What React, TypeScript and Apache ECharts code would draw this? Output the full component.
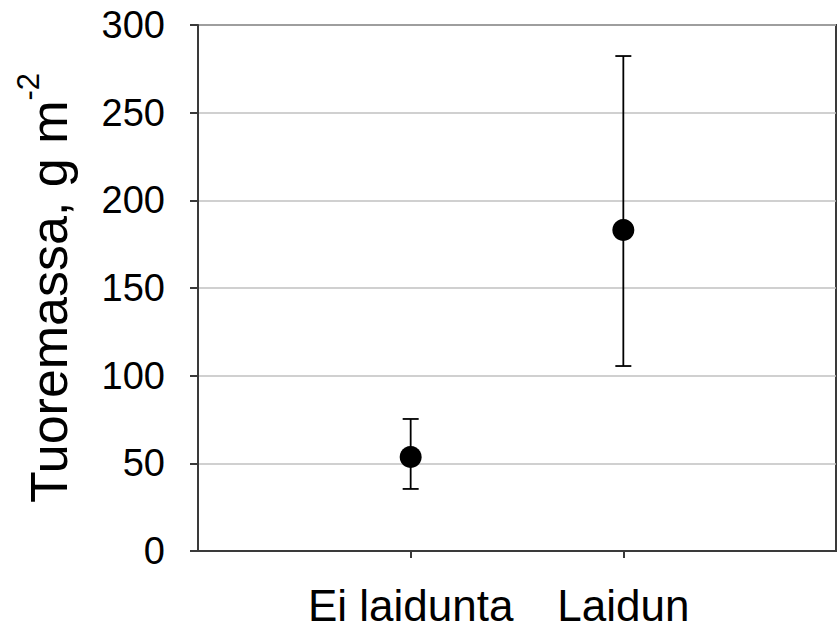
import React, { useEffect, useRef } from "react";
import * as echarts from "echarts";

const categories = ["Ei laidunta", "Laidun"];
const means = [53.6, 183.1];
const upper = [75.3, 282.3];
const lower = [35.4, 105.5];
const yTicks = [0, 50, 100, 150, 200, 250, 300];

const FONT = "'Liberation Sans', Arial, sans-serif";

export default function App() {
  const ref = useRef<HTMLDivElement>(null);
  useEffect(() => {
    if (!ref.current) return;
    const chart = echarts.init(ref.current, undefined, { renderer: "svg" });
    const pos = categories.map((_, i) => i + 1);
    const option: any = {
      animation: false,
      backgroundColor: "#ffffff",
      grid: {
        left: 198,
        right: 2,
        top: 25,
        bottom: 77,
        show: true,
        borderColor: "#3a3a3a",
        borderWidth: 2,
      },
      xAxis: {
        type: "value",
        min: 0,
        max: 3,
        interval: 1,
        splitLine: { show: false },
        axisLine: { show: true, onZero: false, lineStyle: { color: "#3a3a3a", width: 2 } },
        axisTick: { show: true, customValues: pos, length: 7, lineStyle: { color: "#3a3a3a", width: 2 } },
        axisLabel: {
          customValues: pos,
          formatter: (v: number) => categories[Math.round(v) - 1] ?? "",
          fontFamily: FONT,
          fontSize: 44,
          color: "#000000",
          margin: 32,
        },
      },
      yAxis: {
        type: "value",
        min: yTicks[0],
        max: yTicks[yTicks.length - 1],
        interval: 50,
        splitLine: { show: true, lineStyle: { color: "#c0c0c0", width: 1.5 } },
        axisLine: { show: true, lineStyle: { color: "#3a3a3a", width: 2 } },
        axisTick: { show: true, length: 8, lineStyle: { color: "#3a3a3a", width: 2 } },
        axisLabel: {
          fontFamily: FONT,
          fontSize: 38,
          color: "#000000",
          margin: 33,
        },
        name: "{a|Tuoremassa, g m}{b|-2}",
        nameLocation: "middle",
        nameGap: 123,
        nameTextStyle: {
          rich: {
            a: { fontFamily: FONT, fontSize: 52, color: "#000000", lineHeight: 62, verticalAlign: "bottom" },
            b: { fontFamily: FONT, fontSize: 31, color: "#000000", lineHeight: 62, verticalAlign: "top" },
          },
        },
      },
      series: [
        {
          type: "custom",
          data: pos.map((p, i) => [p, lower[i], upper[i]]),
          encode: { x: 0, y: [1, 2] },
          z: 2,
          renderItem: (params: any, api: any) => {
            const x = api.value(0);
            const lo = api.coord([x, api.value(1)]);
            const hi = api.coord([x, api.value(2)]);
            const hw = 8;
            const style = { stroke: "#000000", lineWidth: 1.8 };
            return {
              type: "group",
              children: [
                { type: "line", shape: { x1: lo[0], y1: lo[1], x2: hi[0], y2: hi[1] }, style },
                { type: "line", shape: { x1: hi[0] - hw, y1: hi[1], x2: hi[0] + hw, y2: hi[1] }, style },
                { type: "line", shape: { x1: lo[0] - hw, y1: lo[1], x2: lo[0] + hw, y2: lo[1] }, style },
              ],
            };
          },
        },
        {
          type: "scatter",
          data: pos.map((p, i) => [p, means[i]]),
          symbol: "circle",
          symbolSize: 22,
          itemStyle: { color: "#000000", opacity: 1 },
          z: 3,
        },
      ],
    };
    chart.setOption(option);
    return () => chart.dispose();
  }, []);
  return <div ref={ref} style={{ width: 838, height: 628, position: "absolute", left: 0, top: 0 }} />;
}
